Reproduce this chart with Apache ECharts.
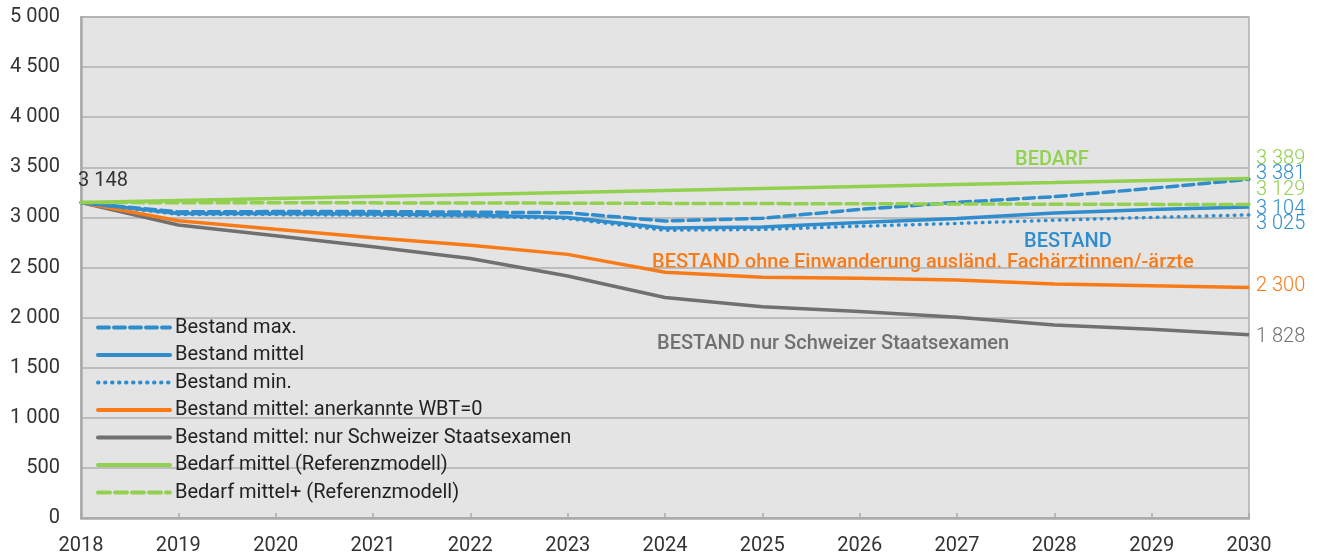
<!DOCTYPE html>
<html>
<head>
<meta charset="utf-8">
<script src="https://cdn.jsdelivr.net/npm/echarts@6/dist/echarts.min.js"></script>
<style>
  html, body { margin: 0; padding: 0; background: #ffffff; }
  #chart { width: 1321px; height: 558px; }
</style>
</head>
<body>
<div id="chart"></div>
<script>
// Years on the x axis
const years = ['2018','2019','2020','2021','2022','2023','2024','2025','2026','2027','2028','2029','2030'];

// Supply scenarios (Bestand)
const bestandMax    = [3148, 3055, 3058, 3058, 3052, 3047, 2964, 2991, 3080, 3150, 3207, 3290, 3381];
const bestandMittel = [3148, 3040, 3040, 3035, 3025, 3000, 2895, 2905, 2950, 2990, 3045, 3080, 3104];
const bestandMin    = [3148, 3030, 3028, 3022, 3012, 2988, 2872, 2880, 2912, 2940, 2972, 3000, 3025];
const bestandWbt0   = [3148, 2967, 2881, 2797, 2721, 2631, 2452, 2402, 2392, 2375, 2335, 2318, 2300];
const bestandCh     = [3148, 2924, 2817, 2707, 2590, 2415, 2200, 2108, 2062, 2003, 1926, 1883, 1828];

// Demand scenarios (Bedarf)
const bedarfMittel     = [3148, 3168, 3188, 3208, 3228, 3248, 3268, 3288, 3308, 3328, 3348, 3369, 3389];
const bedarfMittelPlus = [3148, 3147, 3146, 3145, 3144, 3142, 3140, 3138, 3136, 3134, 3132, 3130, 3129];

const yTicks = { min: 0, max: 5000, interval: 500 };

const BLUE = '#2f8dcd';
const GREEN = '#92d050';
const ORANGE = '#f97b18';
const GREY = '#707070';
const FONT = 'Roboto';

function fmt(v) {
  return String(v).replace(/\B(?=(\d{3})+(?!\d))/g, ' ');
}

function endLabel(color, dy) {
  return {
    show: true,
    formatter: p => fmt(p.value),
    color: color,
    fontFamily: FONT,
    fontWeight: 300,
    fontSize: 20,
    distance: 7,
    offset: [0, dy]
  };
}

function lineSeries(name, data, color, width, type, dy, z) {
  return {
    name: name,
    type: 'line',
    data: data,
    symbol: 'none',
    z: z,
    lineStyle: { color: color, width: width, type: type, cap: type === 'solid' ? 'butt' : 'round' },
    itemStyle: { color: color },
    endLabel: endLabel(color, dy)
  };
}

// grey series also carries the common start value above the first point
const chSeries = lineSeries('Bestand mittel: nur Schweizer Staatsexamen', bestandCh, GREY, 3.5, 'solid', 2, 3);
chSeries.markPoint = {
  symbol: 'circle',
  symbolSize: 0,
  silent: true,
  data: [{ coord: [0, bestandCh[0]], value: bestandCh[0] }],
  label: {
    show: true, position: 'top', distance: 0, align: 'left', offset: [-3, -12],
    formatter: p => fmt(p.value), color: '#333', fontFamily: FONT, fontWeight: 400, fontSize: 20
  }
};

const chart = echarts.init(document.getElementById('chart'), null, { renderer: 'canvas' });

chart.setOption({
  animation: false,
  backgroundColor: '#ffffff',
  textStyle: { fontFamily: FONT },
  grid: {
    left: 81, right: 72, top: 17, bottom: 40,
    show: true, backgroundColor: '#e4e4e4', borderColor: '#aeaeae', borderWidth: 1.5
  },
  legend: {
    orient: 'vertical',
    left: 91, top: 312.5,
    itemWidth: 72, itemHeight: 20, itemGap: 7.5,
    itemStyle: { opacity: 0 },
    lineStyle: { width: 4, cap: 'round' },
    textStyle: { color: '#222', fontSize: 20, fontFamily: FONT },
    data: ['Bestand max.', 'Bestand mittel', 'Bestand min.', 'Bestand mittel: anerkannte WBT=0',
           'Bestand mittel: nur Schweizer Staatsexamen', 'Bedarf mittel (Referenzmodell)',
           'Bedarf mittel+ (Referenzmodell)']
  },
  xAxis: {
    type: 'category',
    data: years,
    boundaryGap: false,
    axisLine: { lineStyle: { color: '#aaaaaa', width: 2.5 } },
    axisTick: { show: true, inside: true, length: 5, lineStyle: { color: '#aaaaaa', width: 1.5 } },
    axisLabel: { color: '#333', fontSize: 20, fontFamily: FONT, margin: 18 }
  },
  yAxis: {
    type: 'value',
    min: yTicks.min, max: yTicks.max, interval: yTicks.interval,
    axisLine: { show: true, lineStyle: { color: '#aaaaaa', width: 2.5 } },
    axisTick: { show: false },
    splitLine: { lineStyle: { color: '#b0b0b0', width: 1.5 } },
    axisLabel: { color: '#333', fontSize: 20, fontFamily: FONT, margin: 21, formatter: v => fmt(v) }
  },
  series: [
    lineSeries('Bestand max.', bestandMax, BLUE, 3.5, [11, 5], -5, 5),
    lineSeries('Bestand mittel', bestandMittel, BLUE, 3.5, 'solid', 2, 5),
    lineSeries('Bestand min.', bestandMin, BLUE, 3.5, [0.5, 6.5], 9, 5),
    lineSeries('Bestand mittel: anerkannte WBT=0', bestandWbt0, ORANGE, 3.5, 'solid', -2, 4),
    chSeries,
    lineSeries('Bedarf mittel (Referenzmodell)', bedarfMittel, GREEN, 3.5, 'solid', -19, 6),
    lineSeries('Bedarf mittel+ (Referenzmodell)', bedarfMittelPlus, GREEN, 3.5, [12, 5], -14, 6)
  ],
  graphic: [
    { type: 'text', x: 1015, y: 160, style: { text: 'BEDARF', fill: GREEN, font: '500 20px Roboto', align: 'left', verticalAlign: 'middle' } },
    { type: 'text', x: 1024, y: 242, style: { text: 'BESTAND', fill: BLUE, font: '500 20px Roboto', align: 'left', verticalAlign: 'middle' } },
    { type: 'text', x: 652, y: 263, style: { text: 'BESTAND ohne Einwanderung ausländ. Fachärztinnen/-ärzte', fill: ORANGE, font: '500 20px Roboto', align: 'left', verticalAlign: 'middle' } },
    { type: 'text', x: 657, y: 344, style: { text: 'BESTAND nur Schweizer Staatsexamen', fill: GREY, font: '500 20px Roboto', align: 'left', verticalAlign: 'middle' } }
  ]
});
</script>
</body>
</html>
